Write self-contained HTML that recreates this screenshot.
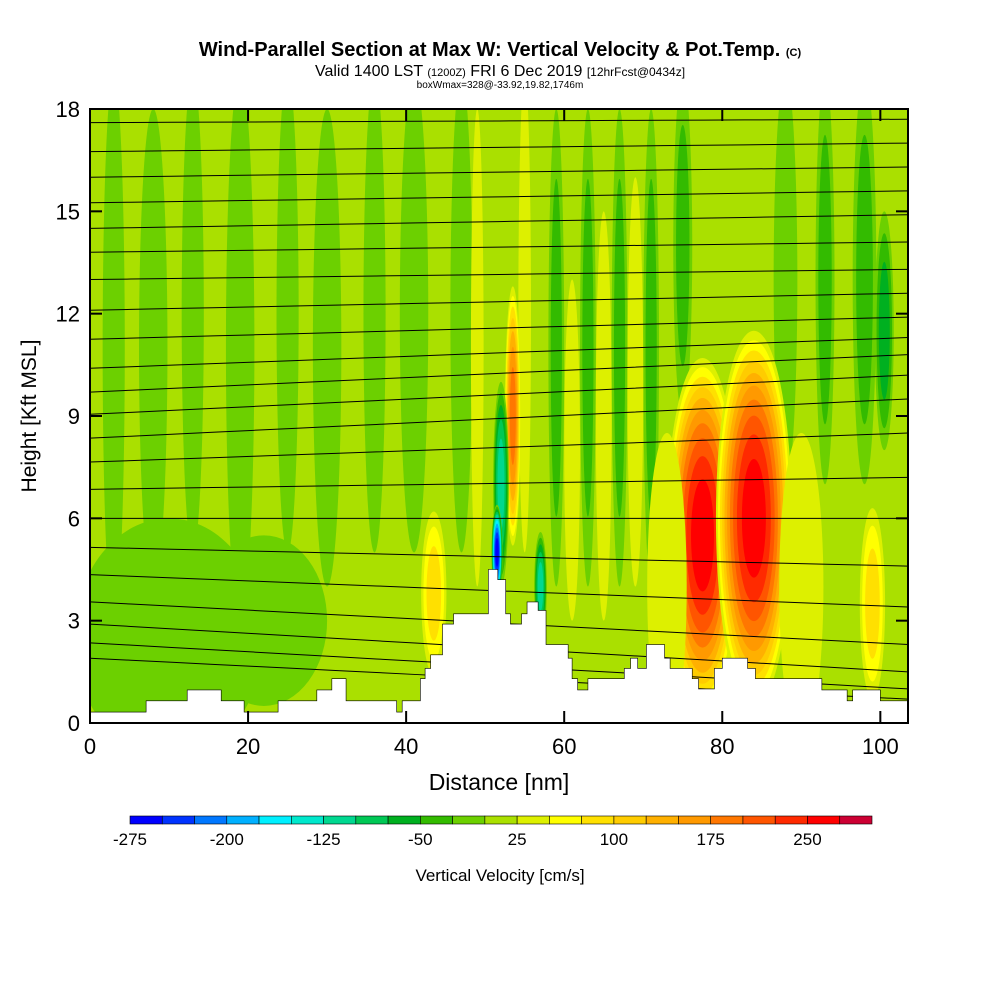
<!DOCTYPE html>
<html><head><meta charset="utf-8"><style>
html,body{margin:0;padding:0;background:#fff;}
svg{display:block;font-family:"Liberation Sans",sans-serif;}
</style></head><body>
<svg id="chart" width="1000" height="1000" viewBox="0 0 1000 1000">
<text x="500" y="56" text-anchor="middle" font-size="20" font-weight="bold">Wind-Parallel Section at Max W: Vertical Velocity &amp; Pot.Temp. <tspan font-size="11">(C)</tspan></text>
<text x="500" y="76" text-anchor="middle" font-size="16">Valid 1400 LST <tspan font-size="11">(1200Z)</tspan> FRI 6 Dec 2019 <tspan font-size="12">[12hrFcst@0434z]</tspan></text>
<text x="500" y="88" text-anchor="middle" font-size="10">boxWmax=328@-33.92,19.82,1746m</text>
<defs><clipPath id="plotclip"><rect x="90" y="109" width="818" height="614"/></clipPath></defs>
<g id="plot" clip-path="url(#plotclip)"></g>
<g id="axes"></g>
<g id="cbar"></g>
<text x="36" y="416" transform="rotate(-90 36 416)" text-anchor="middle" font-size="21">Height [Kft MSL]</text>
<text x="499" y="790" text-anchor="middle" font-size="23">Distance [nm]</text>
<text x="500" y="881" text-anchor="middle" font-size="17">Vertical Velocity [cm/s]</text>
</svg>
<script>
const binColors=['#0000ff','#0033ff','#0077ff','#00b0ff','#00f0ff','#00e8cc','#00d890','#00c855','#00b020','#33bb00','#6cd000','#aae000','#ddf000','#ffff00','#ffe000','#ffcc00','#ffb000','#ff9900','#ff7700','#ff5500','#ff2a00','#ff0000','#cc0033'];
const cbarLabels=[-275,-200,-125,-50,25,100,175,250];
const xTicks=[0,20,40,60,80,100];
const yTicks=[0,3,6,9,12,15,18];
// features: x center (nm), y center (kft), x radius, y radius, peak value
const featX=[3,8,13,19,25,30,36,41,47,59,63,67,71,75,88,93,98,10,22,49,55,61,65,69,100.5,77.5,84,73,90,43.5,99,53.5,52,51.5,57];
const featY=[11,11,12,11,12,11,12,12,12,11,11,11,11,14,13,13,13,2.5,3,11,12,8,9,10,11.5,5.5,6,4,4,3.8,3.5,9,7,5,4];
const featRX=[1.4,1.8,1.4,1.8,1.4,1.8,1.4,1.8,1.4,1,1,1,1,1.2,1.5,1.2,1.5,12,8,0.8,0.8,1,1,1,1.2,4.6,4.8,2.5,2.8,1.6,1.6,1,1,0.7,0.8];
const featRY=[8,7,7,8,7,7,7,7,7,7,7,7,7,5,6,6,6,3.5,2.5,7,7,5,6,6,3.5,5.2,5.5,4.5,4.5,2.4,2.8,3.8,3,1.4,1.6];
const featV=[-10,-10,-10,-10,-10,-10,-10,-10,-10,-40,-40,-40,-40,-40,-10,-40,-40,-10,-10,40,40,40,40,40,-75,260,260,40,40,90,80,190,-125,-275,-125];
// terrain: step starts (nm) and heights (kft)
const terrX=[0,7.1,12.3,16.6,19.5,23.8,28.7,30.6,32.4,38.8,39.5,41.8,42.4,43.1,44.6,46,49.3,50.4,51.6,52.6,53.2,54.6,55.3,56.7,57.7,60.5,61,61.7,63,67.6,68.4,69.3,70.4,72.7,73.4,76.2,77,79,80,83.2,84.2,91.2,92.6,95.8,96.5,100];
const terrH=[0.32,0.65,0.97,0.65,0.32,0.65,0.97,1.3,0.65,0.32,0.65,1.3,1.6,2.0,2.9,3.2,3.2,4.5,4.2,3.2,2.9,3.2,3.55,3.3,2.3,1.9,1.3,0.97,1.3,1.6,1.9,1.6,2.3,1.9,1.6,1.3,1.0,1.6,1.9,1.6,1.3,1.3,0.97,0.65,0.97,0.65];
// potential temperature contour heights (kft), left edge and right edge
const thetaLeft=[17.6,16.75,16.0,15.25,14.5,13.8,13.0,12.1,11.25,10.4,9.7,9.05,8.35,7.65,6.85,6.0,5.15,4.35,3.55,2.9,2.35,1.9];
const thetaRight=[17.7,17.0,16.3,15.6,14.9,14.1,13.3,12.6,11.9,11.3,10.8,10.2,9.5,8.5,7.2,6.0,4.6,3.4,2.3,1.5,1.0,0.7];
const XMAX=103.5;
const sx=v=>90+v*(818/XMAX), sy=v=>723-v*(614/18);
const NS='http://www.w3.org/2000/svg';
function mk(tag,attrs,parent){const e=document.createElementNS(NS,tag);for(const k in attrs)e.setAttribute(k,attrs[k]);parent.appendChild(e);return e;}
function bin(v){return Math.max(0,Math.min(22,Math.floor((v+275)/25)));}
const plot=document.getElementById('plot');
const bg=mk('rect',{x:90,y:109,width:818,height:614,fill:binColors[11]},plot);


const bgBin=11;
for(let i=0;i<featX.length;i++){
  const g=mk('g',{},plot);
  
  
  const pb=bin(featV[i]);const dir=pb>bgBin?1:-1;const n=Math.abs(pb-bgBin);
  for(let k=1;k<=n;k++){
    const f=Math.sqrt(1-(k-1)/n);
    mk('ellipse',{cx:sx(featX[i]),cy:sy(featY[i]),rx:featRX[i]*(818/XMAX)*f,ry:featRY[i]*(614/18)*f,fill:binColors[bgBin+dir*k]},g);
  }
}
// theta contours
for(let i=0;i<thetaLeft.length;i++){
  const pts=[];
  for(let s=0;s<=20;s++){const x=XMAX*s/20;const h=thetaLeft[i]+(thetaRight[i]-thetaLeft[i])*s/20;pts.push(sx(x)+','+sy(h));}
  const l=mk('polyline',{points:pts.join(' '),fill:'none',stroke:'#000','stroke-width':1},plot);
  
  
}
// terrain
let tp=[sx(0)+','+sy(0)];
for(let i=0;i<terrX.length;i++){const x0=terrX[i],x1=i+1<terrX.length?terrX[i+1]:XMAX;tp.push(sx(x0)+','+sy(terrH[i]));tp.push(sx(x1)+','+sy(terrH[i]));}
tp.push(sx(XMAX)+','+sy(0));
const terr=mk('polygon',{points:tp.join(' '),fill:'#fff',stroke:'#000','stroke-width':0.6},plot);


// axes
const ax=document.getElementById('axes');
const frame=mk('rect',{x:90,y:109,width:818,height:614,fill:'none',stroke:'#000','stroke-width':2},ax);


for(const t of xTicks){
  mk('line',{x1:sx(t),x2:sx(t),y1:723,y2:711,stroke:'#000','stroke-width':2},ax);
  mk('line',{x1:sx(t),x2:sx(t),y1:109,y2:121,stroke:'#000','stroke-width':2},ax);
  const tx=mk('text',{x:sx(t),y:754,'text-anchor':'middle','font-size':22},ax);tx.textContent=t;
  
  
}
for(const t of yTicks){
  mk('line',{x1:90,x2:102,y1:sy(t),y2:sy(t),stroke:'#000','stroke-width':2},ax);
  mk('line',{x1:896,x2:908,y1:sy(t),y2:sy(t),stroke:'#000','stroke-width':2},ax);
  const ty=mk('text',{x:80,y:sy(t)+8,'text-anchor':'end','font-size':22},ax);ty.textContent=t;
  
  
}
// colorbar
const cb=document.getElementById('cbar');const cw=(872-130)/23;
for(let i=0;i<23;i++){
  const r=mk('rect',{x:130+i*cw,y:816,width:cw,height:8,fill:binColors[i],stroke:'#000','stroke-width':0.6},cb);
  
  
}
for(const v of cbarLabels){
  const t=mk('text',{x:130+((v+275)/25)*cw,y:845,'text-anchor':'middle','font-size':17},cb);t.textContent=v;
  
  
}
</script>
</body></html>
